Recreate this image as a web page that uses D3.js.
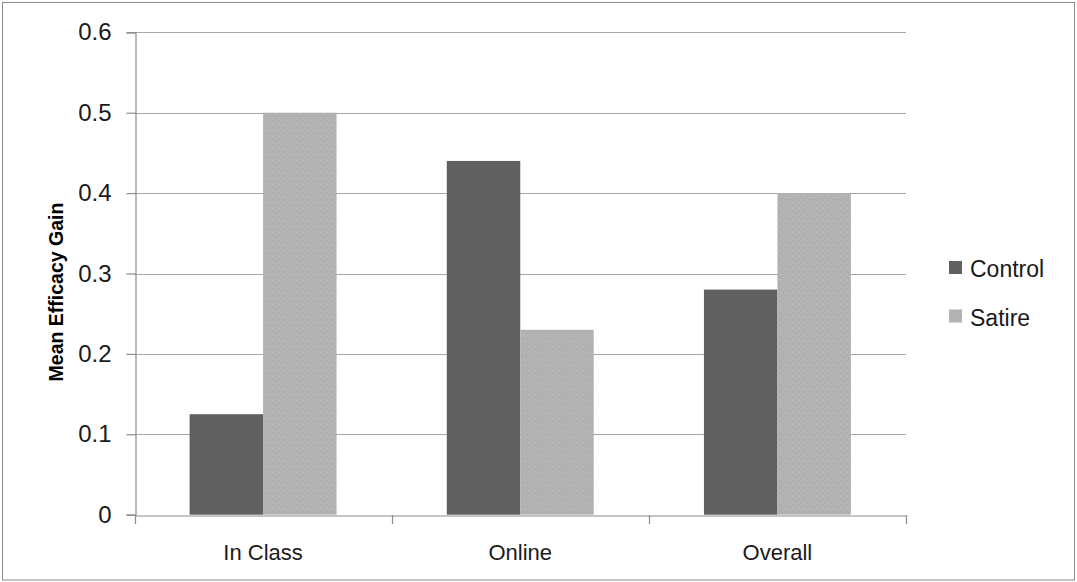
<!DOCTYPE html>
<html><head><meta charset="utf-8">
<script src="https://cdn.jsdelivr.net/npm/d3@7/dist/d3.min.js"></script>
<style>
html,body{margin:0;padding:0;background:#fff;}
svg{display:block;font-family:"Liberation Sans",Arial,sans-serif;}
</style></head>
<body>
<svg id="chart" width="1077" height="582"></svg>
<script>
const categories = ["In Class", "Online", "Overall"];
const seriesNames = ["Control", "Satire"];
const controlValues = [0.125, 0.44, 0.28];
const satireValues = [0.50, 0.23, 0.40];
const yTicks = [0, 0.1, 0.2, 0.3, 0.4, 0.5, 0.6];
const yTitle = "Mean Efficacy Gain";

const svg = d3.select("#chart");
const W = 1077, H = 582;
const m = {left: 134.5, right: 906, top: 32.3, bottom: 514.7};

svg.append("rect").attr("x", 2.5).attr("y", 2.5).attr("width", W - 5).attr("height", H - 4.5)
  .attr("fill", "#fff").attr("stroke", "#8c8c8c").attr("stroke-width", 1);

const defs = svg.append("defs");
const pat = defs.append("pattern").attr("id", "tex").attr("patternUnits", "userSpaceOnUse")
  .attr("width", 6).attr("height", 6);
pat.append("rect").attr("width", 6).attr("height", 6).attr("fill", "#b3b3b3");
[[0,0],[3,1],[1,3],[4,4],[2,5],[5,2]].forEach(([px,py]) =>
  pat.append("rect").attr("x", px).attr("y", py).attr("width", 1).attr("height", 1).attr("fill", "#a4a4a4"));
[[2,0],[5,3],[0,4],[3,5]].forEach(([px,py]) =>
  pat.append("rect").attr("x", px).attr("y", py).attr("width", 1).attr("height", 1).attr("fill", "#c0c0c0"));

const colors = {Control: "#606060", Satire: "url(#tex)"};

const y = d3.scaleLinear().domain([0, 0.6]).range([m.bottom, m.top]);
const x0 = d3.scaleBand().domain(categories).range([m.left, m.right]).paddingInner(0).paddingOuter(0);
const bw = x0.bandwidth() / 3.5;
const x1 = d3.scaleBand().domain(seriesNames).range([0.75 * bw, 2.75 * bw]).padding(0);

// gridlines
svg.append("g").selectAll("line").data(yTicks.filter(t => t > 0)).join("line")
  .attr("x1", m.left).attr("x2", m.right)
  .attr("y1", d => Math.round(y(d)) + 0.5).attr("y2", d => Math.round(y(d)) + 0.5)
  .attr("stroke", "#a6a6a6").attr("stroke-width", 1.2);

// bars
const data = categories.map((c, i) => ({cat: c, vals: [
  {name: "Control", v: controlValues[i]}, {name: "Satire", v: satireValues[i]}]}));
const g = svg.append("g").selectAll("g").data(data).join("g")
  .attr("transform", d => `translate(${x0(d.cat)},0)`);
g.selectAll("rect").data(d => d.vals).join("rect")
  .attr("x", d => x1(d.name)).attr("width", x1.bandwidth())
  .attr("y", d => y(d.v)).attr("height", d => y(0) - y(d.v))
  .attr("fill", d => colors[d.name]);

// y axis
const yAxis = d3.axisLeft(y).tickValues(yTicks).tickSize(9).tickPadding(15)
  .tickFormat(d => d === 0 ? "0" : d3.format(".1f")(d));
const ya = svg.append("g").attr("transform", `translate(${Math.round(m.left) + 0.5},0)`).call(yAxis);
ya.select(".domain").attr("stroke", "#8c8c8c").attr("stroke-width", 1.2);
ya.selectAll(".tick line").attr("stroke", "#8c8c8c").attr("stroke-width", 1.2);
ya.selectAll(".tick text").attr("font-size", 24).attr("fill", "#1a1a1a")
  .attr("font-family", "Liberation Sans, Arial, sans-serif");

// x axis
const xa = svg.append("g").attr("transform", `translate(0,${Math.round(m.bottom) + 0.5})`)
  .call(d3.axisBottom(x0).tickSize(0).tickPadding(0));
xa.select(".domain").attr("stroke", "#8c8c8c").attr("stroke-width", 1.2);
xa.selectAll(".tick text").attr("font-size", 22).attr("fill", "#1a1a1a").attr("dy", null)
  .attr("y", 44).attr("font-family", "Liberation Sans, Arial, sans-serif");
const bounds = categories.map(c => x0(c)).concat([x0(categories[categories.length - 1]) + x0.bandwidth()]);
svg.append("g").selectAll("line").data(bounds).join("line")
  .attr("x1", d => Math.round(d) + 0.5).attr("x2", d => Math.round(d) + 0.5)
  .attr("y1", Math.round(m.bottom)).attr("y2", Math.round(m.bottom) + 9)
  .attr("stroke", "#8c8c8c").attr("stroke-width", 1.2);

// y title
svg.append("text").attr("transform", `translate(63,292) rotate(-90)`)
  .attr("text-anchor", "middle").attr("font-size", 19.5).attr("font-weight", "bold")
  .attr("fill", "#000").text(yTitle);

// legend
const lg = svg.append("g").selectAll("g").data(seriesNames).join("g")
  .attr("transform", (d, i) => `translate(949,${261 + i * 48.5})`);
lg.append("rect").attr("width", 13).attr("height", 13).attr("fill", d => colors[d]);
lg.append("text").attr("x", 21).attr("y", 16).attr("font-size", 23).attr("fill", "#1a1a1a").text(d => d);
</script>
</body></html>
